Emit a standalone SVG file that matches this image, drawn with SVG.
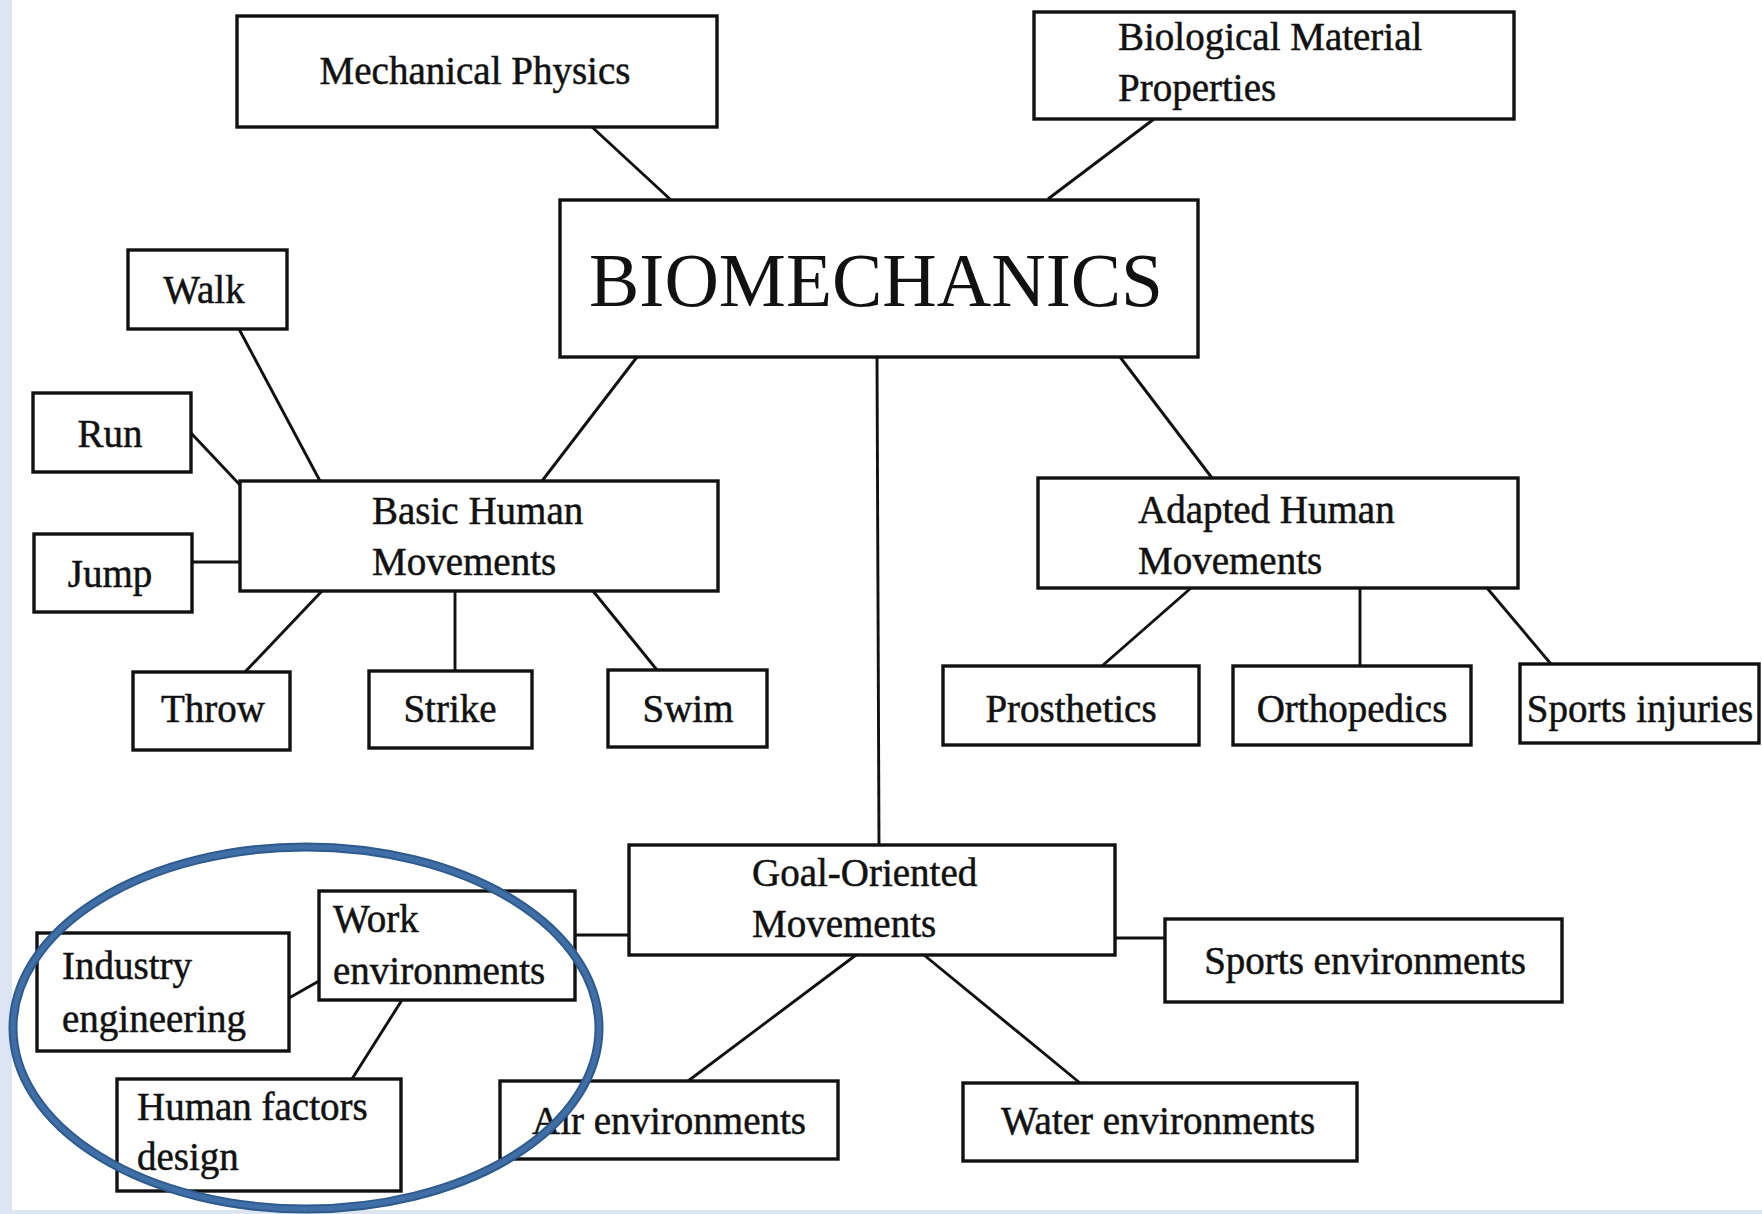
<svg xmlns="http://www.w3.org/2000/svg" width="1762" height="1214" viewBox="0 0 1762 1214">
<style>
.box{fill:#fff;stroke:#111;stroke-width:3.4}
.t{font-family:"Liberation Serif",serif;font-size:39px;fill:#111;stroke:#111;stroke-width:0.5}
.c{text-anchor:middle}
.big{font-family:"Liberation Serif",serif;font-size:76px;fill:#111;text-anchor:middle}
.edge{stroke:#111;stroke-width:2.9;fill:none}
</style>
<rect x="0" y="0" width="1762" height="1214" fill="#fff"/>
<rect x="0" y="0" width="12" height="1214" fill="#dce6f2"/>
<rect x="0" y="1210" width="1762" height="4" fill="#dce6f2"/>

<g id="connectors">
<line class="edge" x1="592" y1="127" x2="671" y2="200"/>
<line class="edge" x1="1154" y1="119" x2="1048" y2="199"/>
<line class="edge" x1="637" y1="357" x2="542" y2="481"/>
<line class="edge" x1="877" y1="357" x2="879" y2="845"/>
<line class="edge" x1="1120" y1="357" x2="1212" y2="478"/>
<line class="edge" x1="239" y1="329" x2="320" y2="481"/>
<line class="edge" x1="191" y1="433" x2="240" y2="485"/>
<line class="edge" x1="192" y1="562" x2="240" y2="562"/>
<line class="edge" x1="322" y1="591" x2="245" y2="672"/>
<line class="edge" x1="455" y1="591" x2="455" y2="671"/>
<line class="edge" x1="593" y1="591" x2="657" y2="670"/>
<line class="edge" x1="1191" y1="588" x2="1102" y2="666"/>
<line class="edge" x1="1360" y1="588" x2="1360" y2="666"/>
<line class="edge" x1="1487" y1="588" x2="1551" y2="664"/>
<line class="edge" x1="575" y1="935" x2="629" y2="935"/>
<line class="edge" x1="1115" y1="938" x2="1165" y2="938"/>
<line class="edge" x1="856" y1="955" x2="688" y2="1081"/>
<line class="edge" x1="924" y1="955" x2="1080" y2="1083"/>
<line class="edge" x1="319" y1="981" x2="289" y2="998"/>
<line class="edge" x1="402" y1="1000" x2="352" y2="1079"/>
</g>

<g id="mechanical-physics"><rect class="box" x="237" y="16" width="480" height="111"/><text class="t c" x="475" y="84">Mechanical Physics</text></g>
<g id="biological-material"><rect class="box" x="1034" y="12" width="480" height="107"/><text class="t" x="1118" y="50">Biological Material</text><text class="t" x="1118" y="101">Properties</text></g>
<g id="biomechanics"><rect class="box" x="560" y="200" width="638" height="157"/><text class="big" x="876" y="306" textLength="574" lengthAdjust="spacingAndGlyphs">BIOMECHANICS</text></g>

<g id="walk"><rect class="box" x="128" y="250" width="159" height="79"/><text class="t c" x="204" y="303">Walk</text></g>
<g id="run"><rect class="box" x="33" y="393" width="158" height="79"/><text class="t c" x="110" y="447">Run</text></g>
<g id="jump"><rect class="box" x="34" y="534" width="158" height="78"/><text class="t c" x="110" y="587">Jump</text></g>
<g id="basic-human"><rect class="box" x="240" y="481" width="478" height="110"/><text class="t" x="372" y="524">Basic Human</text><text class="t" x="372" y="575">Movements</text></g>
<g id="throw"><rect class="box" x="133" y="672" width="157" height="78"/><text class="t c" x="213" y="722">Throw</text></g>
<g id="strike"><rect class="box" x="369" y="671" width="163" height="77"/><text class="t c" x="450" y="722">Strike</text></g>
<g id="swim"><rect class="box" x="608" y="670" width="159" height="77"/><text class="t c" x="688" y="722">Swim</text></g>

<g id="adapted-human"><rect class="box" x="1038" y="478" width="480" height="110"/><text class="t" x="1138" y="523">Adapted Human</text><text class="t" x="1138" y="574">Movements</text></g>
<g id="prosthetics"><rect class="box" x="943" y="666" width="256" height="79"/><text class="t c" x="1071" y="722">Prosthetics</text></g>
<g id="orthopedics"><rect class="box" x="1233" y="666" width="238" height="79"/><text class="t c" x="1352" y="722">Orthopedics</text></g>
<g id="sports-injuries"><rect class="box" x="1520" y="664" width="239" height="79"/><text class="t c" x="1640" y="722">Sports injuries</text></g>

<g id="goal-oriented"><rect class="box" x="629" y="845" width="486" height="110"/><text class="t" x="752" y="886">Goal-Oriented</text><text class="t" x="752" y="937">Movements</text></g>
<g id="sports-environments"><rect class="box" x="1165" y="919" width="397" height="83"/><text class="t c" x="1365" y="974">Sports environments</text></g>
<g id="water-environments"><rect class="box" x="963" y="1083" width="394" height="78"/><text class="t c" x="1158" y="1134">Water environments</text></g>
<g id="air-environments"><rect class="box" x="500" y="1081" width="338" height="78"/><text class="t c" x="669" y="1134">Air environments</text></g>
<g id="work-environments"><rect class="box" x="319" y="891" width="256" height="109"/><text class="t" x="333" y="932">Work</text><text class="t" x="333" y="984">environments</text></g>
<g id="industry-engineering"><rect class="box" x="37" y="933" width="252" height="118"/><text class="t" x="62" y="979">Industry</text><text class="t" x="62" y="1032">engineering</text></g>
<g id="human-factors"><rect class="box" x="117" y="1079" width="284" height="112"/><text class="t" x="137" y="1120">Human factors</text><text class="t" x="137" y="1170">design</text></g>

<g id="highlight-ellipse">
<ellipse cx="306" cy="1028" rx="293" ry="181" fill="none" stroke="#2f5a8c" stroke-width="9"/>
<ellipse cx="306" cy="1028" rx="293" ry="181" fill="none" stroke="#3f6fa6" stroke-width="5"/>
</g>
</svg>
